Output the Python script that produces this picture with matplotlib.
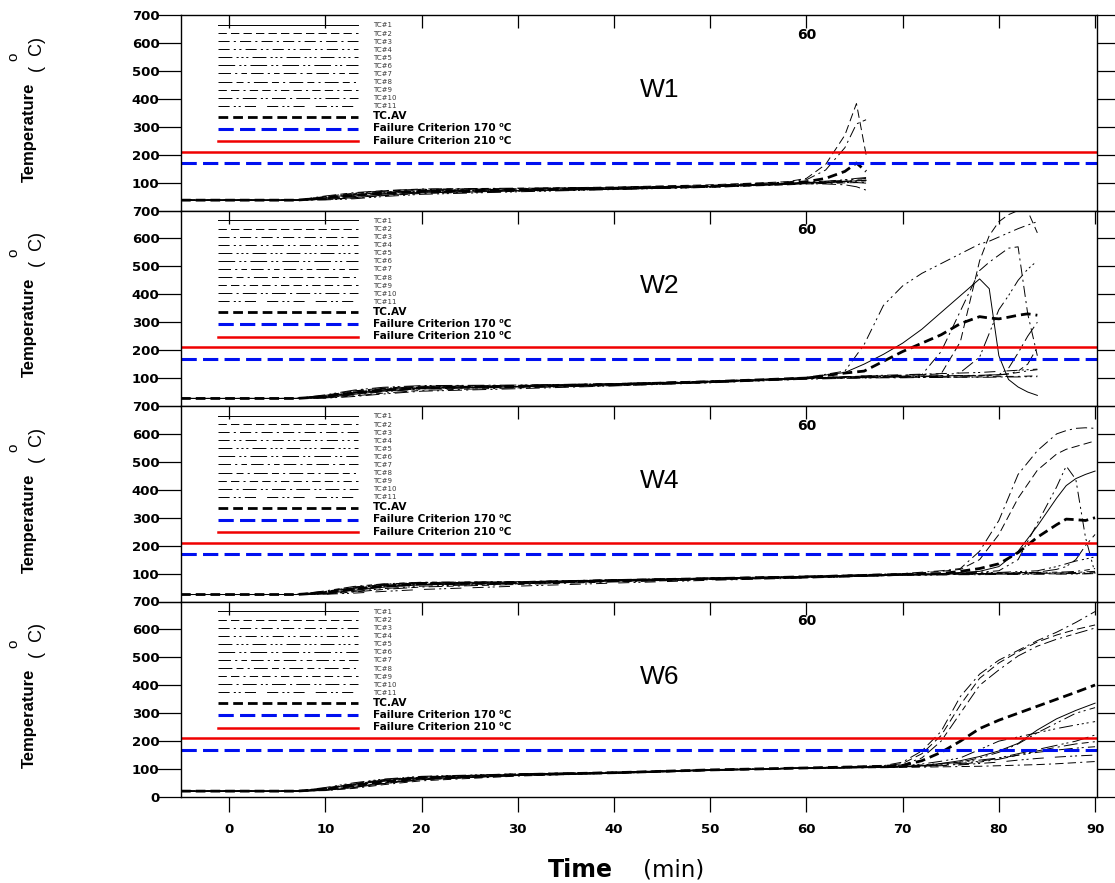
import matplotlib
matplotlib.use("Agg")
import matplotlib.pyplot as plt
import matplotlib.transforms as mtransforms

plt.rcParams["lines.scale_dashes"] = False
plt.rcParams["font.family"] = ["DejaVu Sans"]

# ---------------------------------------------------------------- data
TC_LABELS = [f"TC#{i}" for i in range(1, 12)]
AV_LABEL = "TC.AV"
CRIT_LOW = 170
CRIT_HIGH = 210
CRIT_LOW_LABEL = "Failure Criterion 170 \u2070C"
CRIT_HIGH_LABEL = "Failure Criterion 210 \u2070C"
PANEL_NAMES = ["W1", "W2", "W4", "W6"]
MARK_TIME = 60
X_TICKS = [0, 10, 20, 30, 40, 50, 60, 70, 80, 90]
Y_TICKS = [0, 100, 200, 300, 400, 500, 600, 700]

# W1
t_w1 = [-5, 7, 10, 13, 16, 20, 30, 40, 50, 58, 60, 62, 64, 65.2, 66.2]
w1_tc = [
    [37, 37, 40, 46, 55, 63, 70, 77, 85, 95, 98, 101, 104, 106, 108],
    [37, 37, 50, 62, 70, 76, 79, 84, 92, 103, 115, 165, 270, 383, 200],
    [37, 37, 46, 57, 66, 72, 76, 81, 89, 102, 110, 145, 225, 310, 325],
    [37, 37, 43, 53, 62, 69, 74, 79, 87, 97, 100, 104, 108, 112, 115],
    [37, 37, 38, 42, 50, 58, 67, 75, 83, 94, 97, 100, 103, 105, 106],
    [37, 37, 48, 60, 69, 75, 78, 82, 89, 98, 101, 105, 110, 115, 118],
    [37, 37, 42, 50, 59, 66, 72, 78, 86, 96, 99, 102, 105, 108, 110],
    [37, 37, 52, 64, 71, 77, 80, 83, 88, 95, 97, 99, 100, 100, 98],
    [37, 37, 39, 45, 53, 61, 69, 76, 83, 92, 95, 97, 99, 100, 101],
    [37, 37, 45, 56, 65, 71, 75, 80, 86, 94, 96, 95, 92, 85, 73],
    [37, 37, 44, 52, 60, 67, 72, 78, 85, 95, 98, 101, 104, 107, 109],
]
w1_av = [37, 37, 45, 54, 62, 68, 74, 79, 87, 97, 103, 115, 140, 170, 140]

# W2
t_w2 = [-5, 7, 10, 13, 16, 20, 30, 40, 50, 60, 64, 66, 68, 70, 72, 74, 76, 78,
        79, 80, 81, 82, 83, 84]
w2_tc = [
    [27, 27, 31, 42, 53, 63, 69, 76, 86, 102, 120, 150, 185, 225, 275, 335, 395, 455, 420, 180, 95, 68, 50, 38],
    [27, 27, 38, 54, 64, 71, 74, 80, 89, 100, 105, 107, 108, 110, 112, 115, 230, 520, 610, 660, 685, 700, 698, 620],
    [27, 27, 35, 50, 61, 68, 71, 78, 88, 100, 104, 106, 108, 110, 112, 195, 340, 485, 515, 540, 565, 570, 330, 180],
    [27, 27, 30, 40, 51, 61, 68, 75, 86, 102, 125, 220, 360, 430, 475, 510, 545, 580, 590, 605, 620, 635, 648, 660],
    [27, 27, 34, 47, 58, 66, 70, 77, 86, 99, 103, 105, 106, 107, 108, 108, 120, 175, 260, 345, 395, 450, 490, 520],
    [27, 27, 40, 57, 67, 73, 75, 80, 89, 100, 103, 104, 105, 106, 107, 108, 109, 110, 111, 112, 135, 190, 250, 300],
    [27, 27, 35, 48, 58, 66, 70, 77, 87, 99, 102, 103, 104, 105, 106, 107, 108, 109, 110, 111, 115, 125, 150, 210],
    [27, 27, 29, 36, 46, 56, 65, 73, 84, 98, 101, 102, 103, 104, 105, 106, 107, 108, 110, 112, 115, 120, 126, 130],
    [27, 27, 33, 46, 56, 64, 69, 76, 86, 98, 100, 101, 102, 102, 103, 103, 104, 104, 105, 105, 106, 106, 107, 108],
    [27, 27, 28, 34, 43, 53, 62, 72, 83, 96, 99, 100, 101, 101, 102, 102, 103, 103, 103, 104, 104, 104, 105, 105],
    [27, 27, 38, 54, 63, 70, 73, 79, 89, 101, 105, 108, 110, 112, 114, 116, 118, 120, 122, 124, 126, 128, 130, 132],
]
w2_av = [27, 27, 34, 47, 57, 65, 70, 77, 87, 100, 118, 125, 160, 195, 225, 255, 295, 320, 315, 312, 318, 325, 330, 325]

# W4
t_w4 = [-5, 7, 10, 13, 16, 20, 30, 40, 50, 60, 70, 74, 76, 78, 80, 82, 84, 86, 87, 88, 89, 90]
w4_tc = [
    [25, 25, 29, 40, 51, 60, 65, 73, 80, 87, 97, 100, 104, 108, 125, 180, 270, 370, 415, 440, 455, 467],
    [25, 25, 35, 50, 60, 67, 70, 77, 84, 90, 98, 108, 115, 150, 240, 370, 470, 528, 545, 555, 565, 575],
    [25, 25, 36, 52, 62, 68, 71, 78, 84, 91, 100, 110, 118, 180, 290, 455, 540, 600, 612, 620, 622, 620],
    [25, 25, 31, 44, 54, 62, 67, 75, 82, 88, 96, 99, 102, 105, 110, 150, 280, 410, 485, 437, 230, 100],
    [25, 25, 27, 36, 46, 55, 63, 72, 80, 86, 95, 98, 100, 102, 104, 107, 110, 125, 135, 145, 152, 160],
    [25, 25, 33, 47, 57, 64, 68, 76, 82, 88, 96, 98, 99, 100, 101, 103, 105, 115, 125, 150, 200, 240],
    [25, 25, 38, 54, 63, 69, 71, 77, 84, 90, 97, 99, 100, 101, 102, 103, 104, 105, 106, 108, 112, 118],
    [25, 25, 27, 34, 43, 52, 61, 70, 78, 85, 94, 96, 97, 97, 98, 98, 99, 99, 100, 100, 100, 101],
    [25, 25, 34, 49, 59, 66, 69, 77, 83, 89, 97, 99, 100, 100, 101, 101, 102, 102, 103, 104, 106, 108],
    [25, 25, 30, 42, 53, 61, 66, 74, 81, 87, 95, 97, 98, 99, 100, 100, 101, 101, 102, 102, 103, 103],
    [25, 25, 26, 30, 36, 43, 55, 66, 76, 84, 94, 95, 96, 96, 97, 97, 98, 98, 98, 99, 99, 100],
]
w4_av = [25, 25, 32, 45, 55, 63, 67, 75, 82, 88, 97, 100, 108, 118, 135, 175, 230, 275, 295, 293, 290, 300]

# W6
t_w6 = [-5, 7, 10, 13, 16, 20, 30, 40, 50, 60, 68, 70, 72, 74, 76, 78, 80, 82, 84, 86, 88, 90]
w6_tc = [
    [21, 21, 24, 34, 48, 62, 77, 85, 95, 103, 107, 109, 112, 120, 130, 145, 165, 192, 240, 280, 310, 336],
    [21, 21, 32, 48, 62, 73, 82, 89, 98, 105, 110, 120, 155, 220, 330, 425, 480, 520, 555, 580, 600, 616],
    [21, 21, 30, 46, 60, 71, 81, 88, 97, 105, 112, 125, 165, 235, 360, 440, 490, 525, 560, 590, 625, 664],
    [21, 21, 26, 38, 51, 65, 78, 86, 96, 103, 107, 110, 115, 120, 125, 140, 160, 190, 230, 265, 300, 320],
    [21, 21, 34, 51, 64, 74, 83, 89, 98, 104, 108, 112, 118, 128, 140, 170, 200, 215, 230, 245, 258, 270],
    [21, 21, 28, 42, 56, 68, 80, 87, 97, 104, 107, 109, 112, 118, 125, 132, 140, 155, 170, 185, 200, 222],
    [21, 21, 29, 44, 58, 70, 80, 87, 97, 104, 108, 115, 140, 200, 300, 400, 455, 505, 540, 565, 585, 605],
    [21, 21, 25, 37, 50, 64, 78, 86, 96, 103, 106, 108, 110, 113, 117, 125, 135, 150, 165, 178, 190, 198],
    [21, 21, 23, 31, 44, 58, 75, 85, 95, 103, 105, 106, 107, 108, 109, 110, 112, 114, 116, 119, 123, 127],
    [21, 21, 31, 47, 60, 71, 81, 88, 97, 104, 107, 109, 111, 115, 120, 128, 138, 150, 160, 168, 175, 180],
    [21, 21, 24, 35, 48, 62, 77, 85, 95, 103, 106, 108, 110, 112, 115, 120, 125, 132, 138, 143, 147, 150],
]
w6_av = [21, 21, 28, 42, 55, 68, 80, 87, 97, 104, 110, 113, 130, 160, 200, 245, 275, 300, 325, 350, 375, 401]

panels = [
    (t_w1, w1_tc, w1_av),
    (t_w2, w2_tc, w2_av),
    (t_w4, w4_tc, w4_av),
    (t_w6, w6_tc, w6_av),
]

# ---------------------------------------------------------------- styles
TC_STYLES = [
    "-",
    (0, (6, 3)),
    (0, (8, 3, 1.5, 3)),
    (0, (8, 3, 1.5, 2.5, 1.5, 3)),
    (0, (10, 3, 1.5, 2, 1.5, 2, 1.5, 3)),
    (0, (12, 3, 1.5, 2, 1.5, 3)),
    (0, (9, 3, 1.5, 3, 4, 3)),
    (0, (10, 3, 5, 3, 1.5, 3)),
    (0, (6, 3, 6, 3, 1.5, 3)),
    (0, (10, 3, 1.5, 3, 10, 3, 1.5, 2, 1.5, 3)),
    (0, (8, 3, 1.5, 2, 1.5, 3, 8, 8)),
]

fig = plt.figure(figsize=(11.15, 8.83), dpi=100)
W, H = 1115.0, 883.0
gs = fig.add_gridspec(4, 1, left=181 / W, right=1097 / W,
                      top=1 - 15 / H, bottom=1 - 797 / H, hspace=0)

tick_font = dict(fontsize=9.5, fontweight="bold")

for k, (t, tcs, av) in enumerate(panels):
    ax = fig.add_subplot(gs[k])
    handles = []
    for vals, ls in zip(tcs, TC_STYLES):
        (ln,) = ax.plot(t, vals, color="black", lw=0.7, linestyle=ls)
        handles.append(ln)
    (av_ln,) = ax.plot(t, av, color="black", lw=2.0, dashes=(7, 3.6))
    low = ax.axhline(CRIT_LOW, color="#0010f0", lw=2.2, dashes=(11, 4.5))
    high = ax.axhline(CRIT_HIGH, color="#f00000", lw=1.8)
    handles += [av_ln, low, high]

    ax.set_xlim(-5, 90.2)
    ax.set_ylim(0, 700)
    ax.set_xticks(X_TICKS)
    ax.set_yticks(Y_TICKS)
    for s in ax.spines.values():
        s.set_linewidth(1.0)

    last = k == len(panels) - 1
    ax.tick_params(axis="y", direction="out", width=0.9, pad=12,
                   left=True, right=True, labelright=False)
    ax.tick_params(axis="x", direction="in", length=9, width=0.9,
                   top=True, bottom=False, labelbottom=False)
    if last:
        ax.tick_params(axis="x", bottom=True, labelbottom=True, pad=18.5)
        for tk in ax.xaxis.get_major_ticks():
            tk.tick1line.set_marker(3)  # bottom ticks hang below the axis
            tk.tick1line.set_markersize(11)
    for tk in ax.yaxis.get_major_ticks():
        tk.tick1line.set_markersize(17)
        tk.tick2line.set_markersize(14)

    labels = [str(v) for v in Y_TICKS]
    if not last:
        labels[0] = ""
    ax.set_yticklabels(labels, **tick_font)
    if last:
        ax.set_xticklabels([str(v) for v in X_TICKS], **tick_font)

    # legend
    leg = ax.legend(handles, TC_LABELS + [AV_LABEL, CRIT_LOW_LABEL, CRIT_HIGH_LABEL],
                    loc="upper left", bbox_to_anchor=(0.040, 0.962),
                    bbox_transform=ax.transAxes, frameon=False, fontsize=5.0,
                    handlelength=20.2, handletextpad=2.16, labelspacing=0.3,
                    borderpad=0, borderaxespad=0)
    for i, txt in enumerate(leg.get_texts()):
        if i < len(TC_LABELS):
            txt.set_color("#3a3a3a")
        else:
            txt.set_fontsize(7.6)
            txt.set_fontweight("bold")

    ax.text(MARK_TIME, 0.90, str(MARK_TIME),
            transform=mtransforms.blended_transform_factory(ax.transData, ax.transAxes),
            ha="center", va="center", fontsize=10, fontweight="bold")
    ax.text(0.523, 0.615, PANEL_NAMES[k], transform=ax.transAxes,
            ha="center", va="center", fontsize=19, family="Liberation Sans")

    # y axis caption
    ax.text(-0.165, 0.40, "Temperature", transform=ax.transAxes, rotation=90,
            ha="center", va="center", fontsize=12, fontweight="bold",
            family="Liberation Sans")
    ax.text(-0.157, 0.80, "(  C)", transform=ax.transAxes, rotation=90,
            ha="center", va="center", fontsize=13, family="Liberation Sans")
    ax.text(-0.183, 0.785, "o", transform=ax.transAxes, rotation=90,
            ha="center", va="center", fontsize=11, family="Liberation Sans")

fig.text(548 / W, 1 - 870 / H, "Time", ha="left", va="center",
         fontsize=17, fontweight="bold")
fig.text(643 / W, 1 - 870 / H, "(min)", ha="left", va="center", fontsize=16.5)

fig.savefig("out.png", dpi=100)
